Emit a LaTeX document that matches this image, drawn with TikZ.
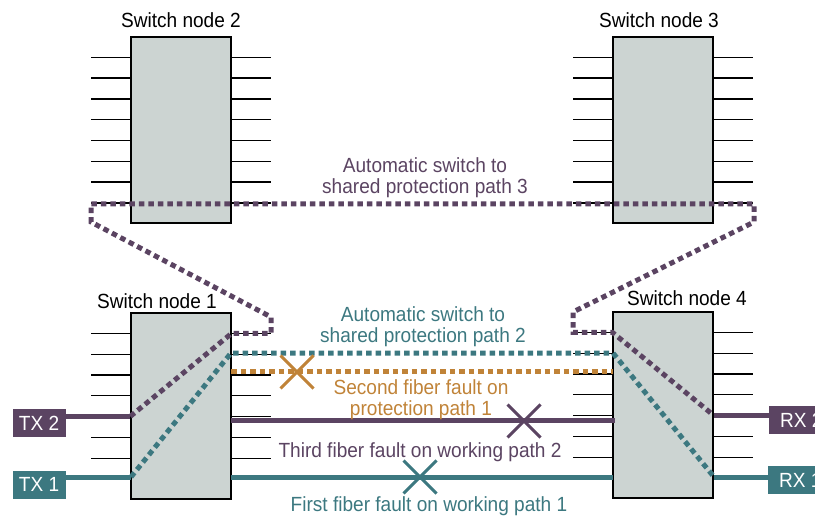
\documentclass[tikz,border=0pt]{standalone}
\usepackage{fontspec}
\setmainfont{Liberation Sans}[FakeStretch=0.93]
\usetikzlibrary{positioning,calc,shapes.misc}

\definecolor{ppurple}{HTML}{5B4462}
\definecolor{pteal}{HTML}{3C7880}
\definecolor{porange}{HTML}{C08338}
\definecolor{boxgray}{HTML}{CCD4D2}

\begin{document}
\begin{tikzpicture}[x=1pt,y=-1pt,
    every node/.style={font={\fontsize{20.5}{21}\selectfont}},
    switch/.style={draw,line width=1.3pt,fill=boxgray,minimum width=100pt,
        minimum height=186pt,inner sep=0pt},
    swname/.style={inner sep=0pt},
    lbl/.style={inner sep=0pt,align=center},
    port/.style={line width=1.3pt},
    fiber/.style={line width=5pt},
    prot/.style={line width=5pt,dash pattern=on 5.5pt off 4pt},
    fault/.style={cross out,draw,line width=3pt,minimum size=30pt,inner sep=0pt},
    term/.style={text=white,minimum width=53pt,minimum height=28pt,inner sep=0pt}]

\useasboundingbox (0,0) rectangle (815,516);

% switches
\node[switch] (sw2) at (181,130) {};
\node[switch] (sw3) at (663,130) {};
\node[switch] (sw1) at (181,406) {};
\node[switch] (sw4) at (663,405) {};

\node[swname,above=8pt of sw2] (n2) {Switch node 2};
\node[swname,above=8pt of sw3,xshift=-4pt] (n3) {Switch node 3};
\node[swname,above=3pt of sw1,xshift=-24pt] (n1) {Switch node 1};
\node[swname,above=5pt of sw4,xshift=24pt] (n4) {Switch node 4};

\foreach \sw in {sw1,sw2,sw3,sw4}
  \foreach \i in {0,...,7}{
    \draw[port] ($(\sw.north west)+(0,21+20.8*\i)$) -- +(-39,0);
    \draw[port] ($(\sw.north east)+(0,21+20.8*\i)$) -- +(39,0);
  }

% terminals
\node[term,fill=ppurple] (tx2) at (39,423) {TX 2};
\node[term,fill=pteal] (tx1) at (39,484.5) {TX 1};
\node[term,fill=ppurple,minimum width=64pt,anchor=west] (rx2) at (769,420) {RX 2};
\node[term,fill=pteal,minimum width=64pt,anchor=west] (rx1) at (768,480) {RX 1};

\coordinate (tx2in) at ($(sw1.north west)+(0,104)$);
\coordinate (p1out) at ($(sw1.north east)+(0,21)$);
\coordinate (p4in) at ($(sw4.north west)+(0,21)$);
\coordinate (rx2out) at ($(sw4.north east)+(0,104)$);
\coordinate (b1) at (271,317);
\coordinate (b2) at (91,222);
\coordinate (b3) at (91,204);
\coordinate (b4) at (754,204);
\coordinate (b5) at (754,222);
\coordinate (b6) at (573,312);

\coordinate (tx1in) at (131,477);
\coordinate (t1out) at (231,353);
\coordinate (t4in) at (613,353);
\coordinate (rx1out) at (714,477);

% protection paths
\draw[prot,porange] (231,371) -- (613,371);
\draw[prot,pteal] (tx1in) -- (t1out) -- (t4in) -- (rx1out);
\draw[prot,ppurple] (tx2in) -- (p1out) -| (b1) -- (b2) -- (b3) -- (b4)
    -- (b5) -- (b6) |- (p4in) -- (rx2out);

% working paths
\draw[fiber,ppurple] (tx2.east |- tx2in) -- (tx2in);
\draw[fiber,ppurple] (231,420) -- (615,420);
\draw[fiber,ppurple] (rx2out) -- (rx2.west |- rx2out);
\draw[fiber,pteal] (tx1.east |- tx1in) -- (tx1in);
\draw[fiber,pteal] (231,477) -- (613,477);
\draw[fiber,pteal] (rx1out) -- (rx1.west |- rx1out);

% faults
\node[fault,draw=porange] (f2) at (297,372) {};
\node[fault,draw=ppurple] (f3) at (524,421) {};
\node[fault,draw=pteal] (f1) at (420,477) {};

\node[lbl,text=ppurple] (l3) at (425,177.5) {Automatic switch to\\shared protection path 3};
\node[lbl,text=pteal] (l2) at (423,326.5) {Automatic switch to\\shared protection path 2};
\node[lbl,text=porange] (l4) at (421,399.5) {Second fiber fault on\\protection path 1};
\node[lbl,text=ppurple,anchor=base] (l5) at (420,457) {Third fiber fault on working path 2};
\node[lbl,text=pteal,anchor=base] (l6) at (429,511) {First fiber fault on working path 1};

\end{tikzpicture}
\end{document}
